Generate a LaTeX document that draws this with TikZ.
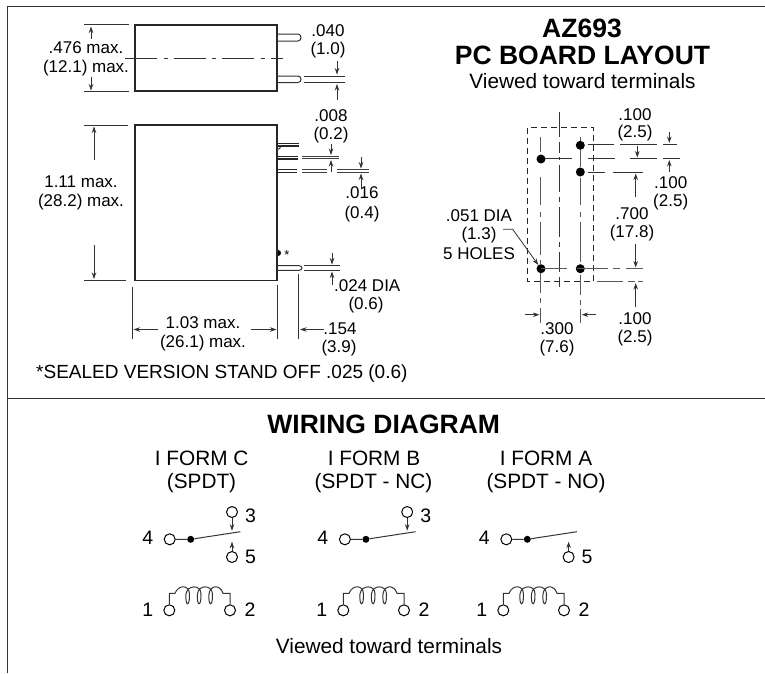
\documentclass[tikz,border=0pt]{standalone}
\usepackage{fontspec}
\setmainfont{Liberation Sans}
\usetikzlibrary{arrows.meta}
\tikzset{
  frameline/.style={line width=1.3pt,color=black!80},
  body/.style={line width=1.2pt,color=black!85},
  thin line/.style={line width=1pt,color=black!80},
  grey line/.style={line width=1.1pt,color=black!65},
  dim/.style={line width=0.8pt,color=black!80,-{Stealth[length=6.5pt,width=4.5pt]}},
  lbl/.style={inner sep=0pt,align=center,font=\fontsize{17}{19.3}\selectfont},
  caption/.style={inner sep=0pt,align=center,font=\fontsize{20.8}{23}\selectfont},
  digit/.style={inner sep=0pt,font=\fontsize{19.5}{22}\selectfont},
  ttl/.style={inner sep=0pt,align=center,font=\bfseries\fontsize{26.5}{29}\selectfont},
  ctr/.style={line width=0.9pt,color=black!80,dash pattern=on 32pt off 6.5pt on 4pt off 6pt},
  hole/.style={circle,fill=black,inner sep=0pt,minimum size=9pt},
  term/.style={circle,draw,fill=white,line width=1pt,inner sep=0pt,minimum size=11pt},
  jun/.style={circle,fill=black,inner sep=0pt,minimum size=7pt},
}
\newcommand{\pinend}[3]{\draw[thin line] (277,#2) -- (#1,#2) .. controls (#1+4,#2) and (#1+4,#3) .. (#1,#3) -- (277,#3);}
\newcommand{\relayform}[4]{%
  \begin{scope}[shift={(#1,0)}]
  \node[term] (t4) at (169.7,539.3) {};
  \node[jun] (j) at (190.7,539.3) {};
  \coordinate (tip) at (240.3,531.7);
  \node[digit] at (147.7,537.7) {4};
  \draw[thin line] (t4) -- (j) -- (tip);
  \ifnum#3=1
    \node[term] (t3) at (232,512) {};
    \node[digit] at (250.5,516) {3};
    \coordinate (tipa) at (232,530.7);
    \draw[dim] (t3) -- (tipa);
  \fi
  \ifnum#4=1
    \node[term] (t5) at (232,557) {};
    \node[digit] at (250.5,557.3) {5};
    \coordinate (tipb) at (232,541.7);
    \draw[dim] (t5) -- (tipb);
  \fi
  \end{scope}
  \begin{scope}[shift={(#2,0)}]
  \node[term] (c1) at (169.3,610.3) {};
  \node[term] (c2) at (230,610.3) {};
  \node[digit] at (147.7,609.5) {1};
  \node[digit] at (250,610) {2};
  \draw[thin line] (c1) -- (169.3,593.3) -- (175,593.3)
    .. controls (178,585) and (189,584) .. (189.5,594)
    .. controls (190,607) and (185,607) .. (186,594)
    .. controls (187,585) and (201,584) .. (201,594)
    .. controls (201.5,607) and (196.5,607) .. (197.5,594)
    .. controls (198,585) and (212,584) .. (212.5,594)
    .. controls (213,607) and (208,607) .. (209,594)
    .. controls (210,585) and (220,584) .. (223,593.3)
    -- (230,593.3) -- (c2);
  \end{scope}}
\begin{document}
\begin{tikzpicture}[x=1pt,y=-1pt]
\useasboundingbox (0,0) rectangle (765,673);
% frame
\coordinate (f1) at (7.3,673); \coordinate (f2) at (7.3,6.3); \coordinate (f3) at (765,6.3);
\coordinate (f4) at (7.3,398.3); \coordinate (f5) at (765,398.3);
\draw[frameline] (f1) -- (f2) -- (f3);
\draw[frameline] (f4) -- (f5);
% top body
\draw[body] (135,25) rectangle (277,91);
\draw[ctr] (125,58) -- (283,58);
\draw[thin line] (84,24.5) -- (129,24.5) (84,91.7) -- (129,91.7);
\node[lbl] at (86,48) {.476 max.};
\node[lbl] at (86,68) {(12.1) max.};
\draw[dim] (91,39) -- (91,26.5);
\draw[dim] (91,77) -- (91,90.5);
\pinend{298}{34}{41}
\pinend{298}{76}{82.5}
\draw[thin line] (304,76) -- (345,76) (304,82.5) -- (345,82.5);
\node[lbl] at (328,31) {.040};
\node[lbl] at (328,50) {(1.0)};
\draw[dim] (337,61) -- (337,74.5);
\draw[dim] (337,100) -- (337,84);
% lower body
\draw[body] (135,125) rectangle (277,280.5);
\draw[thin line] (84,125) -- (128,125) (84,280.5) -- (126,280.5);
\node[lbl] at (81,182) {1.11 max.};
\node[lbl] at (81,202) {(28.2) max.};
\draw[dim] (94,160) -- (94,126.5);
\draw[dim] (94,245) -- (94,279);
\draw[line width=1.3pt,black!85] (277,143.2) -- (299,143.2) (277,146) -- (299,146);
\draw[thin line] (277,149.5) .. controls (279,149.5) and (280.5,148) .. (281,146);
\draw[line width=1.3pt,black!85] (277,156.3) -- (298,156.3) (277,159) -- (298,159);
\draw[line width=0.9pt,black!75] (302,156) -- (339,156) (302,158.7) -- (339,158.7);
\draw[line width=1.3pt,black!85] (277,169.8) -- (297,169.8) (277,172.3) -- (297,172.3);
\draw[line width=0.9pt,black!75] (302,169.8) -- (327,169.8) (302,172.3) -- (327,172.3) (337,169.8) -- (369,169.8) (337,172.3) -- (369,172.3);
\node[lbl] at (331,116) {.008};
\node[lbl] at (331,135) {(0.2)};
\draw[dim] (331,144) -- (331,155);
\draw[dim] (331,172) -- (331,160);
\draw[dim] (361,157) -- (361,168.5);
\draw[dim] (361,188) -- (361,173.5);
\node[lbl] at (362,193) {.016};
\node[lbl] at (362,214) {(0.4)};
% bottom pin
\fill[black] (277.5,250) .. controls (281.5,250) and (281.5,256) .. (277.5,256) -- cycle;
\node[lbl,font=\fontsize{13}{13}\selectfont] at (287,255) {*};
\pinend{299}{265.7}{270.3}
\draw[thin line] (304,265.7) -- (340,265.7) (304,270.3) -- (340,270.3);
\draw[dim] (332,253) -- (332,264.5);
\draw[dim] (332,285) -- (332,271.5);
\node[lbl,anchor=west] at (334,286) {.024 DIA};
\node[lbl] at (366,305) {(0.6)};
% bottom dims
\draw[thin line] (132.7,287) -- (132.7,339) (277.5,285) -- (277.5,339) (298.5,274) -- (298.5,339);
\draw[dim] (158,329.5) -- (133.5,329.5);
\draw[dim] (251,329.5) -- (276.5,329.5);
\node[lbl] at (203,323) {1.03 max.};
\node[lbl] at (203,343) {(26.1) max.};
\draw[dim] (324,329.5) -- (300,329.5);
\node[lbl] at (340,329) {.154};
\node[lbl] at (339,348) {(3.9)};
\node[lbl,anchor=west,font=\fontsize{19}{22}\selectfont] at (36,374) {*SEALED VERSION STAND OFF .025 (0.6)};
% PCB title
\node[ttl] at (582,28.3) {AZ693};
\node[ttl] at (582.5,55) {PC BOARD LAYOUT};
\node[caption] at (582.5,81) {Viewed toward terminals};
% PCB
\draw[line width=0.9pt,black!85,dash pattern=on 6pt off 4pt] (527.7,127.5) rectangle (593.3,281.3);
\draw[thin line] (559.3,112) -- (559.3,137) (559.3,142) -- (559.3,153) (559.3,157) -- (559.3,160) (559.3,165) -- (559.3,192) (559.3,197) -- (559.3,202) (559.3,207) -- (559.3,237) (559.3,242) -- (559.3,247) (559.3,252) -- (559.3,272) (559.3,277) -- (559.3,287);
\draw[grey line] (540.8,137) -- (540.8,152) (540.8,177) -- (540.8,205) (540.8,212) -- (540.8,217) (540.8,222) -- (540.8,255) (540.8,260) -- (540.8,264) (540.8,272) -- (540.8,293) (540.8,298) -- (540.8,303) (540.8,308) -- (540.8,323);
\draw[grey line] (580.3,137) -- (580.3,141) (580.3,150) -- (580.3,167) (580.3,178) -- (580.3,205) (580.3,212) -- (580.3,217) (580.3,222) -- (580.3,262) (580.3,275) -- (580.3,295) (580.3,300) -- (580.3,305) (580.3,309) -- (580.3,323);
\node[hole] (h1) at (580.3,145.3) {};
\node[hole] (h2) at (541,159) {};
\node[hole] (h3) at (580.3,172) {};
\node[hole] (h4) at (541,268.7) {};
\node[hole] (h5) at (580.3,268.7) {};
\draw[thin line] (587.7,144.5) -- (614,144.5) (620,144.5) -- (657,144.5) (663,144.5) -- (677,144.5);
\draw[thin line] (545,158.7) -- (572,158.7) (588,158.7) -- (615,158.7) (630,158.7) -- (657,158.7) (663,158.7) -- (680,158.7);
\draw[thin line] (587.7,172) -- (605,172) (613,172) -- (643,172);
\draw[grey line] (541,268.7) -- (567,268.7) (577,268.7) -- (608,268.7) (613,268.7) -- (620,268.7) (626,268.7) -- (643,268.7);
\draw[grey line] (597,281.7) -- (623,281.7) (628,281.7) -- (635,281.7) (638,281.7) -- (643,281.7);
\node[lbl] at (635,115) {.100};
\node[lbl] at (635,133) {(2.5)};
\draw[dim] (669.3,131.7) -- (669.3,143);
\draw[dim] (669.3,171.7) -- (669.3,160);
\draw[dim] (637.3,146) -- (637.3,157.5);
\node[lbl] at (670.7,182.7) {.100};
\node[lbl] at (670.7,201.7) {(2.5)};
\draw[dim] (635.7,197) -- (635.7,173.5);
\node[lbl] at (632,214) {.700};
\node[lbl] at (632,232.7) {(17.8)};
\draw[dim] (635.7,244) -- (635.7,267.5);
\draw[dim] (635.7,306.7) -- (635.7,283);
\node[lbl] at (635,319) {.100};
\node[lbl] at (635,338) {(2.5)};
\node[lbl] at (557,329) {.300};
\node[lbl] at (557,348) {(7.6)};
\node[lbl] at (479,216) {.051 DIA};
\node[lbl] at (479,235) {(1.3)};
\node[lbl] at (479,254) {5 HOLES};
\coordinate (lead) at (503,229.3);
\draw[dim] (lead) -- (512.7,229.3) -- (h4);
\draw[dim] (525,314.7) -- (539.5,314.7);
\draw[dim] (596,314.7) -- (581.7,314.7);
% wiring
\node[ttl] at (383.7,424) {WIRING DIAGRAM};
\node[caption] at (201.7,458) {I FORM C};
\node[caption] at (201.5,483) {(SPDT)};
\node[caption] at (374,458) {I FORM B};
\node[caption] at (373.5,483) {(SPDT - NC)};
\node[caption] at (546,458) {I FORM A};
\node[caption] at (546,483) {(SPDT - NO)};
\relayform{0}{0}{1}{1}
\relayform{175.2}{174}{1}{0}
\relayform{336.6}{334}{0}{1}
\node[caption] at (389,645.7) {Viewed toward terminals};
\end{tikzpicture}
\end{document}
